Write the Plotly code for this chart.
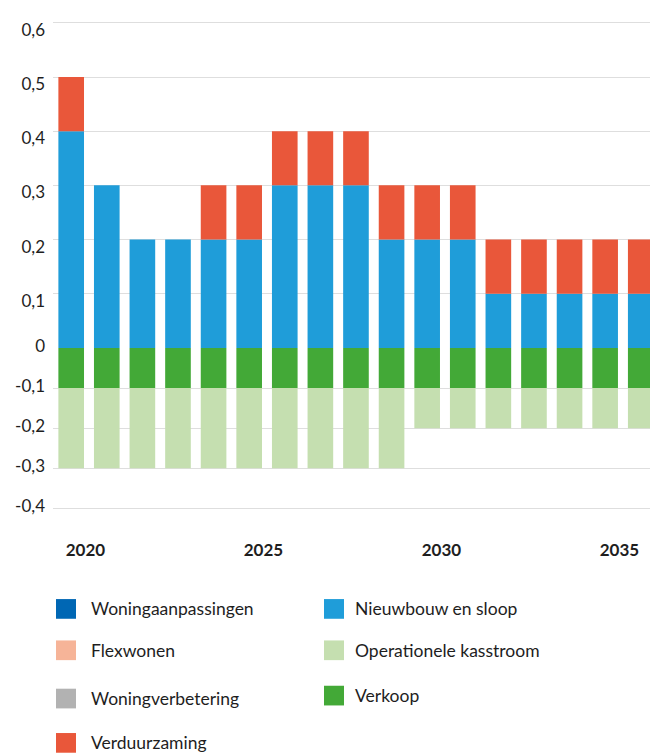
import plotly.graph_objects as go

# --- data -----------------------------------------------------------------
years = list(range(2020, 2037))
label_years = [2020, 2025, 2030, 2035]

woningaanpassingen = [0.0] * 17
flexwonen = [0.0] * 17
woningverbetering = [0.0] * 17
verduurzaming = [0.1, 0, 0, 0, 0.1, 0.1, 0.1, 0.1, 0.1, 0.1, 0.1, 0.1, 0.1, 0.1, 0.1, 0.1, 0.1]
nieuwbouw_sloop = [0.4, 0.3, 0.2, 0.2, 0.2, 0.2, 0.3, 0.3, 0.3, 0.2, 0.2, 0.2, 0.1, 0.1, 0.1, 0.1, 0.1]
operationele_kasstroom = [-0.2] * 10 + [-0.1] * 7
verkoop = [-0.1] * 17

pos_ticks = [0.1, 0.2, 0.3, 0.4, 0.5, 0.6]
pos_ticktext = ["0,1", "0,2", "0,3", "0,4", "0,5", "0,6"]
neg_ticks = [0, -0.1, -0.2, -0.3, -0.4]
neg_ticktext = ["0", "-0,1", "-0,2", "-0,3", "-0,4"]

# --- styling --------------------------------------------------------------
C_WONINGAANP = "#0067B4"
C_FLEX = "#F6B498"
C_WONINGVERB = "#B2B2B2"
C_VERDUURZ = "#E9573A"
C_NIEUWBOUW = "#1F9DD9"
C_OPKAS = "#C5DFB0"
C_VERKOOP = "#43A937"

FONT = "Lato"
TXT = "#1e1e1e"

W, H = 650, 756
PLOT_L, PLOT_R = 53, 650
PLOT_T, PLOT_B = 5, 538
ZERO_PX = 345
POS_SCALE = 550.0     # px per unit above zero
NEG_SCALE = 407.5     # px per unit below zero

plot_h = PLOT_B - PLOT_T
split = (PLOT_B - ZERO_PX) / plot_h
pos_top = (ZERO_PX - PLOT_T) / POS_SCALE
neg_bottom = -(PLOT_B - ZERO_PX) / NEG_SCALE


def px_x(p):
    return (p - PLOT_L) / (PLOT_R - PLOT_L)


def px_y(p):
    return (PLOT_B - p) / plot_h


fig = go.Figure()

# positive side (upper axis)
for name, vals, col in [
    ("Woningaanpassingen", woningaanpassingen, C_WONINGAANP),
    ("Flexwonen", flexwonen, C_FLEX),
    ("Woningverbetering", woningverbetering, C_WONINGVERB),
    ("Nieuwbouw en sloop", nieuwbouw_sloop, C_NIEUWBOUW),
    ("Verduurzaming", verduurzaming, C_VERDUURZ),
]:
    fig.add_trace(go.Bar(x=years, y=vals, name=name, marker=dict(color=col, line=dict(width=0)),
                         xaxis="x", yaxis="y", showlegend=False, hoverinfo="skip"))

# negative side (lower axis)
for name, vals, col in [
    ("Verkoop", verkoop, C_VERKOOP),
    ("Operationele kasstroom", operationele_kasstroom, C_OPKAS),
]:
    fig.add_trace(go.Bar(x=years, y=vals, name=name, marker=dict(color=col, line=dict(width=0)),
                         xaxis="x", yaxis="y2", showlegend=False, hoverinfo="skip"))

grid = dict(showgrid=True, gridcolor="#dedede", gridwidth=1, zeroline=False, showline=False,
            ticks="", fixedrange=True)

fig.update_layout(
    width=W, height=H,
    margin=dict(l=PLOT_L, r=W - PLOT_R, t=PLOT_T, b=H - PLOT_B, pad=0),
    paper_bgcolor="white", plot_bgcolor="white",
    barmode="relative", bargap=0.28,
    font=dict(family=FONT, color=TXT, size=16),
    xaxis=dict(range=[2019.489, 2036.26], anchor="y2", showgrid=False, zeroline=False,
               showline=False, ticks="", tickvals=[y + 0.4 for y in label_years],
               ticktext=[str(y) for y in label_years],
               tickfont=dict(family=FONT, size=17, color=TXT, weight="bold")),
    yaxis=dict(domain=[split, 1], range=[0, pos_top], tickvals=pos_ticks, ticktext=pos_ticktext,
               tickfont=dict(size=17), ticklabelstandoff=7, ticklabelshift=7, **grid),
    yaxis2=dict(domain=[0, split], range=[neg_bottom, 0], tickvals=neg_ticks, ticktext=neg_ticktext,
                tickfont=dict(size=17), ticklabelstandoff=7, ticklabelshift=-2, **grid),
    showlegend=False,
)

# legend in two columns below the chart
legend_left = [("Woningaanpassingen", C_WONINGAANP, 610), ("Flexwonen", C_FLEX, 652),
               ("Woningverbetering", C_WONINGVERB, 701), ("Verduurzaming", C_VERDUURZ, 746)]
legend_right = [("Nieuwbouw en sloop", C_NIEUWBOUW, 610), ("Operationele kasstroom", C_OPKAS, 652),
                ("Verkoop", C_VERKOOP, 698)]

for items, sx, tx in [(legend_left, 56, 89), (legend_right, 324, 353)]:
    for name, col, cy in items:
        fig.add_shape(type="rect", xref="paper", yref="paper",
                      x0=px_x(sx), x1=px_x(sx + 20), y0=px_y(cy + 10), y1=px_y(cy - 10),
                      fillcolor=col, line=dict(width=0))
        fig.add_annotation(xref="paper", yref="paper", x=px_x(tx), y=px_y(cy), text=name,
                           showarrow=False, xanchor="left", yanchor="middle",
                           font=dict(family=FONT, size=17.5, color=TXT))

fig.write_html("out.html")
